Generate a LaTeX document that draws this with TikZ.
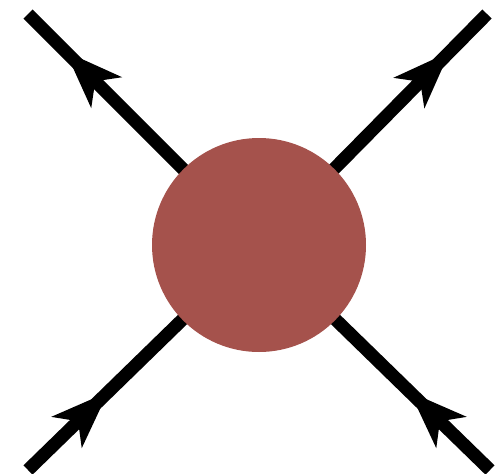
\documentclass[tikz,border=0pt]{standalone}
\usepackage{tikz}
\usetikzlibrary{arrows.meta,decorations.markings}
\definecolor{blobred}{HTML}{A5524C}

\tikzset{
  leg/.style={line width=13pt,black},
  legout/.style={leg,postaction={decorate},decoration={markings,
      mark=at position -53pt with {\arrow{Stealth[length=57pt,width=42pt,inset=15pt]}}}},
  legin/.style={leg,postaction={decorate},decoration={markings,
      mark=at position 112pt with {\arrow{Stealth[length=57pt,width=42pt,inset=15pt]}}}},
  blob/.style={circle,fill=blobred,inner sep=0pt,minimum size=214pt}
}

\begin{document}
\begin{tikzpicture}[x=1pt,y=-1pt]

  \useasboundingbox (0,0) rectangle (501,474);

  % Sommet et extremites
  \coordinate (v) at (259,245);
  \coordinate (tl) at (28,14);
  \coordinate (tr) at (487,14);
  \coordinate (bl) at (28,470);
  \coordinate (br) at (490,470);

  % Pattes
  \draw[legout] (v) -- (tl);
  \draw[legout] (v) -- (tr);
  \draw[legin] (bl) -- (v);
  \draw[legin] (br) -- (v);

  % Blob
  \node[blob] (core) at (v) {};

\end{tikzpicture}
\end{document}
